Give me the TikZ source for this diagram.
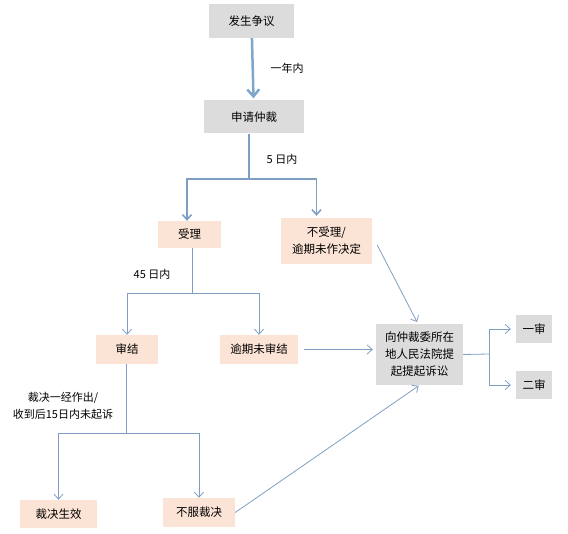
\documentclass[tikz,border=0pt]{standalone}
\usepackage{fontspec}
\setmainfont{Noto Sans CJK SC}
\usetikzlibrary{positioning,arrows.meta}
\definecolor{boxgray}{HTML}{DCDCDC}
\definecolor{boxpeach}{HTML}{FBE3D5}
\definecolor{linkblue}{HTML}{7F9FC2}
\definecolor{thickblue}{HTML}{7FA6CB}

\begin{document}
\begin{tikzpicture}[x=1pt,y=-1pt,
  box/.style={fill=boxgray,inner sep=0pt,align=center,font=\fontsize{11.5}{17}\selectfont},
  pbox/.style={box,fill=boxpeach},
  arr/.style={-{Straight Barb[length=5pt,width=9pt]},draw=linkblue,line width=0.8pt},
  link/.style={draw=linkblue,line width=0.8pt},
  note/.style={font=\fontsize{11}{17}\selectfont,align=center}
]
\useasboundingbox (0,0) rectangle (568,534);
\node[box,minimum width=85,minimum height=34] (dispute) at (251.5,21) {发生争议};
\node[box,minimum width=100,minimum height=33] (apply) at (254,117) {申请仲裁};
\node[pbox,minimum width=63,minimum height=27] (accept) at (189.5,234.5) {受理};
\node[pbox,minimum width=91,minimum height=46] (reject) at (326.5,241) {不受理/\\逾期未作决定};
\node[pbox,minimum width=62,minimum height=29] (award) at (127,349.5) {审结};
\node[pbox,minimum width=78,minimum height=29] (overdue) at (259,349.5) {逾期未审结};
\node[box,minimum width=87,minimum height=61] (court) at (419.5,354.5) {向仲裁委所在\\地人民法院提\\起提起诉讼};
\node[box,minimum width=36,minimum height=28] (first) at (534,329) {一审};
\node[box,minimum width=36,minimum height=28] (second) at (534,385) {二审};
\node[pbox,minimum width=77,minimum height=28] (effect) at (58.5,514) {裁决生效};
\node[pbox,minimum width=72,minimum height=29] (object) at (199,512.5) {不服裁决};
% labels
\node[note] (year) at (287,68) {一年内};
\node[note] (five) at (282,159) {5 日内};
\node[note] (fortyfive) at (152,274) {45 日内};
\node[note] (final) at (63,405.5) {裁决一经作出/\\收到后15日内未起诉};
% split points
\coordinate (s1) at (249,179);
\coordinate (s2) at (192,293);
\coordinate (s3) at (126,433);
\coordinate (s4) at (489,354);
\draw[arr,draw=thickblue,line width=2.5pt,-{Straight Barb[length=7pt,width=12pt]},shorten >=2pt] (dispute) -- (apply);
\draw[link,line width=1.6pt] (apply.south -| s1) -- (s1);
\draw[arr,line width=1.6pt] (s1) -| ([xshift=-2.5pt]accept.north);
\draw[arr,line width=1.6pt] (s1) -| ([xshift=-10pt,yshift=2pt]reject.north);
\draw[link] (accept.south -| s2) -- (s2);
\draw[arr] (s2) -| (award);
\draw[arr] (s2) -| (overdue);
\draw[link] (award.south -| s3) -- (s3);
\draw[arr] (s3) -| (effect);
\draw[arr] (s3) -| (object);
\draw[arr,shorten <=6pt,shorten >=3pt] (overdue) -- (overdue -| court.west);
\draw[arr,shorten >=2pt] ([xshift=5pt,yshift=-4pt]reject.east) -- ([xshift=-1.5pt]court.north);
\draw[arr,shorten >=1pt] (object.east) -- (court.south);
\draw[link] (court.east) -- (s4);
\draw[arr,shorten >=5pt] (s4) |- (first);
\draw[arr,shorten >=5pt] (s4) |- (second);
\end{tikzpicture}
\end{document}
